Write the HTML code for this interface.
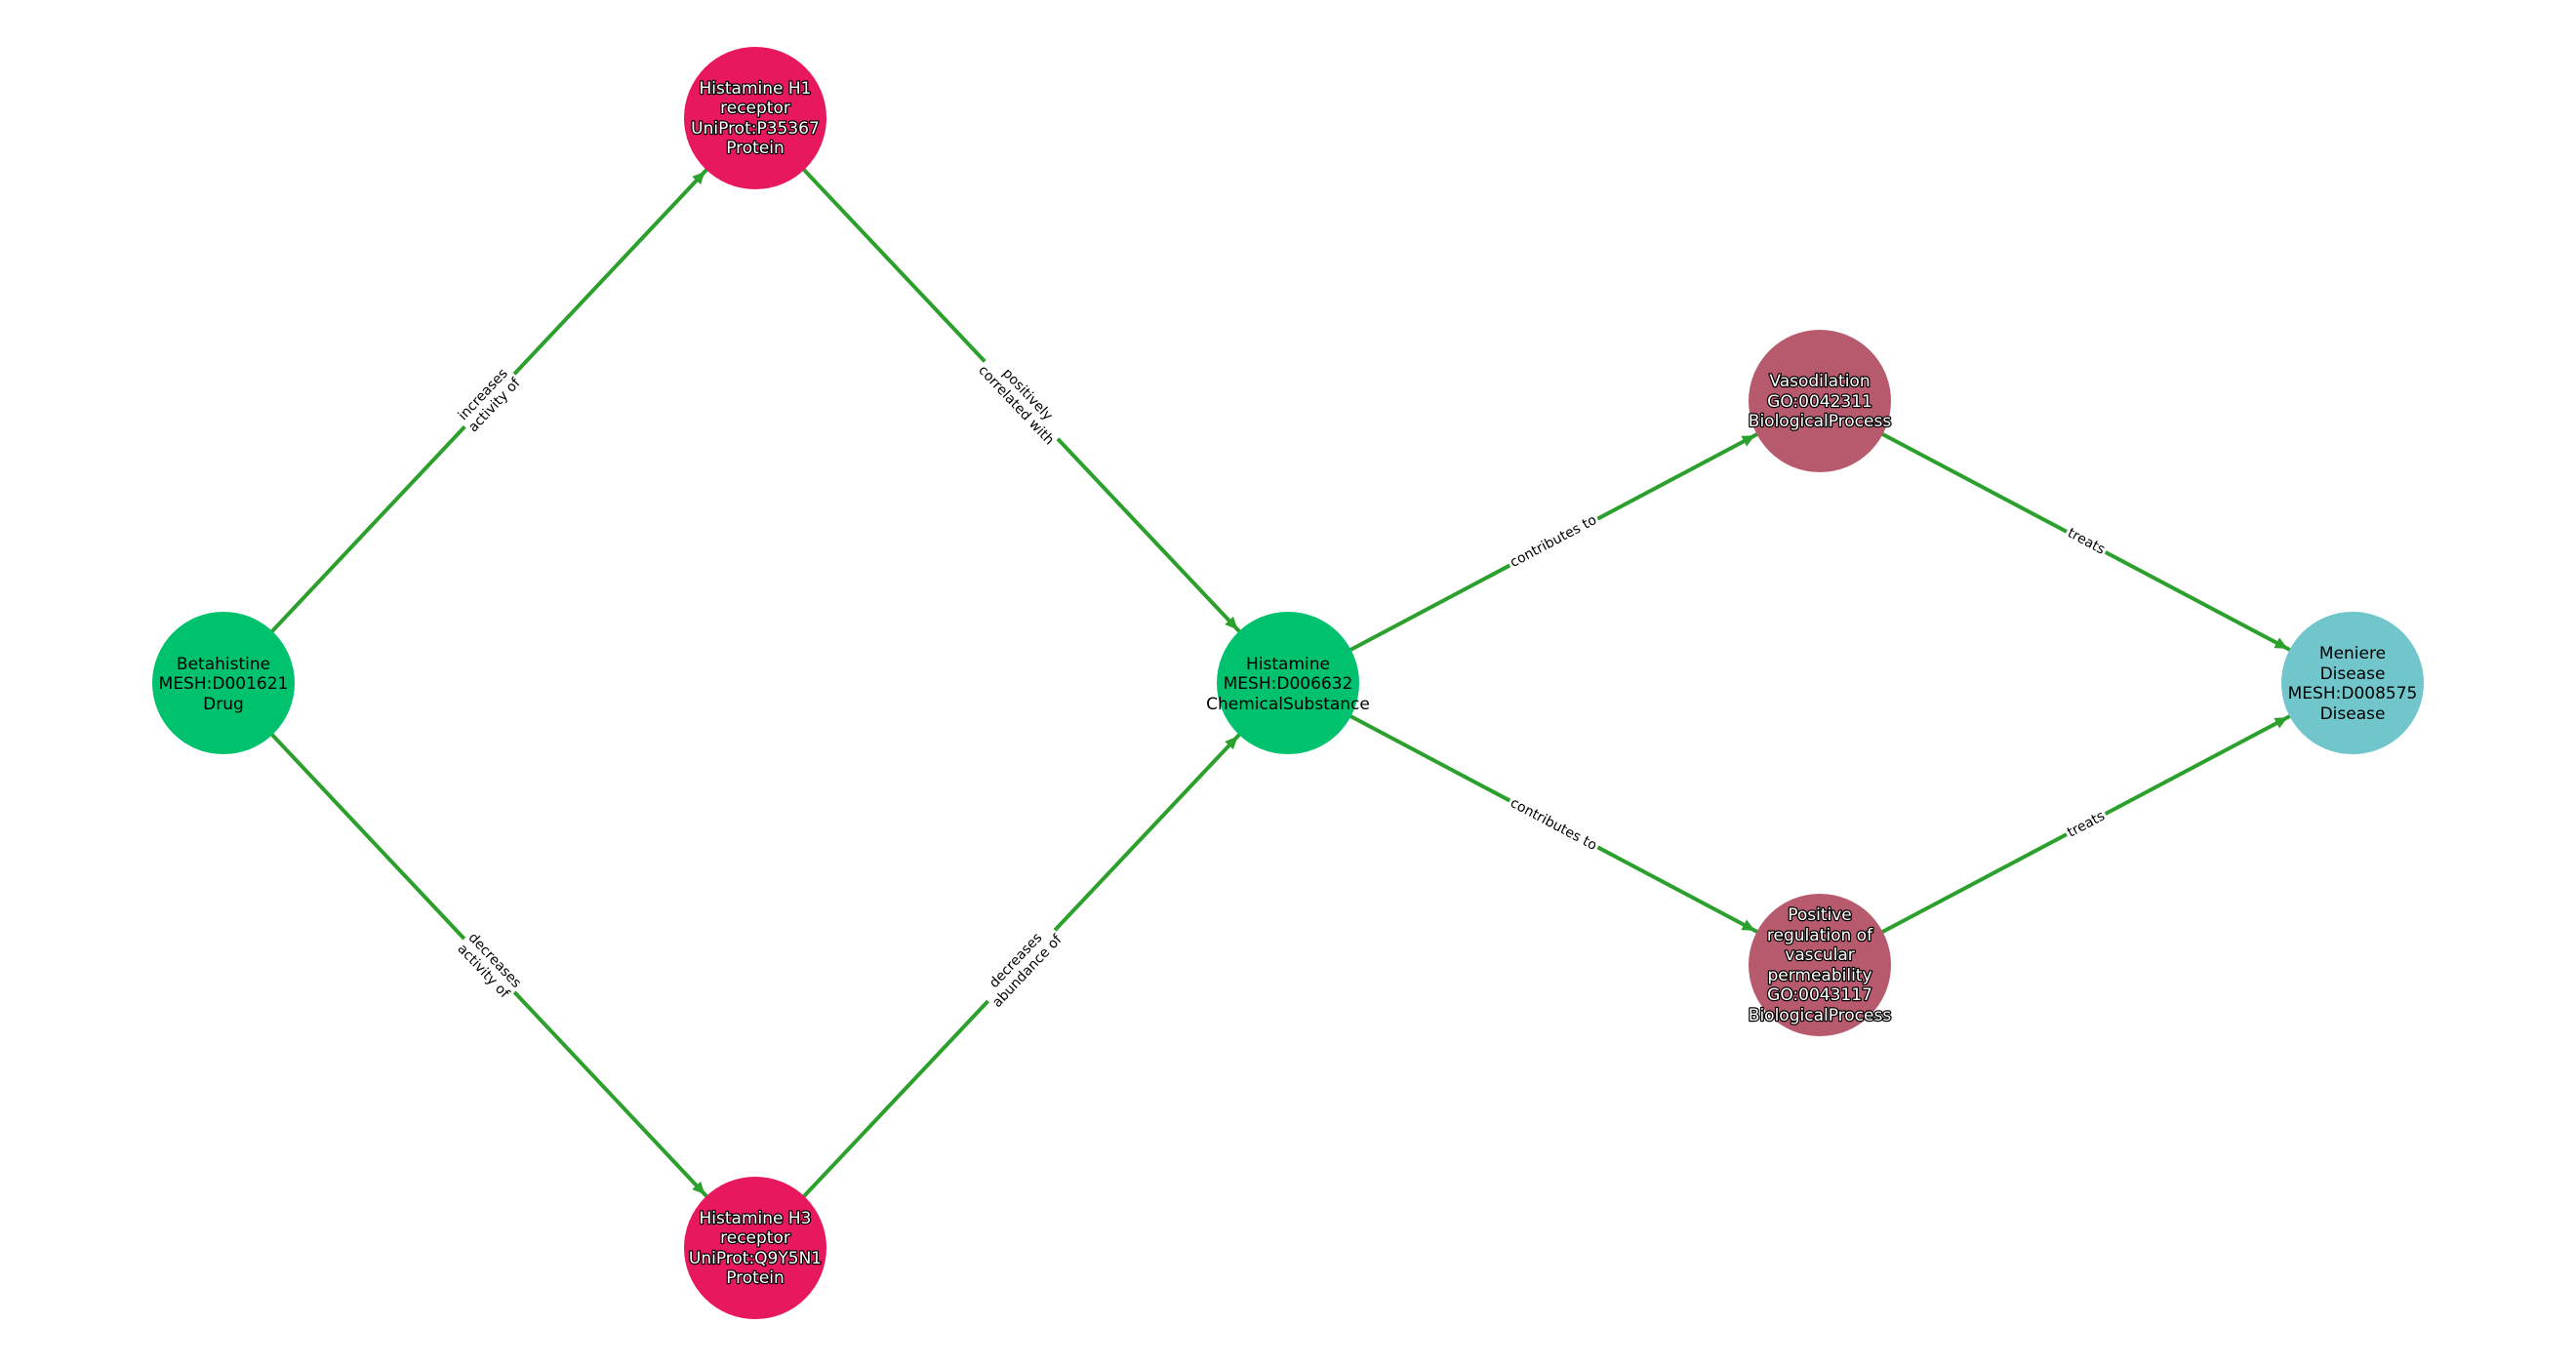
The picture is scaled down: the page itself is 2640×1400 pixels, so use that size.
<!DOCTYPE html>
<html><head><meta charset="utf-8"><style>
html,body{margin:0;padding:0;background:#fff;}
#c{position:relative;width:2640px;height:1400px;overflow:hidden;font-family:"DejaVu Sans","Liberation Sans",sans-serif;}
svg{position:absolute;left:0;top:0;}
.el{position:absolute;transform-origin:center;background:#fff;font-size:14px;line-height:16px;text-align:center;white-space:nowrap;color:#000;padding:0 2px;}
.nt{font-size:17px;text-anchor:middle;font-family:"DejaVu Sans","Liberation Sans",sans-serif;}
.w{fill:#fff;stroke:#000;stroke-width:2.5px;paint-order:stroke;stroke-linejoin:round;}
.b{fill:#000;}
</style></head><body><div id="c">
<svg width="2640" height="1400" viewBox="0 0 2640 1400">
<g stroke="#2ca02c" stroke-width="4">
<line x1="229" y1="700" x2="774" y2="121"/>
<line x1="774" y1="121" x2="1320" y2="700"/>
<line x1="229" y1="700" x2="774" y2="1279"/>
<line x1="774" y1="1279" x2="1320" y2="700"/>
<line x1="1320" y1="700" x2="1865" y2="411"/>
<line x1="1320" y1="700" x2="1865" y2="989"/>
<line x1="1865" y1="411" x2="2411" y2="700"/>
<line x1="1865" y1="989" x2="2411" y2="700"/>
</g>
<circle cx="229" cy="700" r="73" fill="#00c26e"/>
<circle cx="774" cy="121" r="73" fill="#e8185f"/>
<circle cx="774" cy="1279" r="73" fill="#e8185f"/>
<circle cx="1320" cy="700" r="73" fill="#00c26e"/>
<circle cx="1865" cy="411" r="73" fill="#b75a6e"/>
<circle cx="1865" cy="989" r="73" fill="#b75a6e"/>
<circle cx="2411" cy="700" r="73" fill="#70c6ca"/>
<g fill="#2ca02c">
<polygon points="0,0 -13,-6 -13,6" transform="translate(722.6,175.6) rotate(-46.73)"/>
<polygon points="0,0 -13,-6 -13,6" transform="translate(1268.5,645.4) rotate(46.73)"/>
<polygon points="0,0 -13,-6 -13,6" transform="translate(722.6,1224.4) rotate(46.73)"/>
<polygon points="0,0 -13,-6 -13,6" transform="translate(1268.5,754.6) rotate(-46.73)"/>
<polygon points="0,0 -13,-6 -13,6" transform="translate(1798.7,446.1) rotate(-27.93)"/>
<polygon points="0,0 -13,-6 -13,6" transform="translate(1798.7,953.9) rotate(27.93)"/>
<polygon points="0,0 -13,-6 -13,6" transform="translate(2344.7,664.9) rotate(27.93)"/>
<polygon points="0,0 -13,-6 -13,6" transform="translate(2344.7,735.1) rotate(-27.93)"/>
</g>
<text class="nt b" x="229" y="686">Betahistine</text>
<text class="nt b" x="229" y="706">MESH:D001621</text>
<text class="nt b" x="229" y="727">Drug</text>
<text class="nt w" x="774" y="96">Histamine H1</text>
<text class="nt w" x="774" y="116">receptor</text>
<text class="nt w" x="774" y="137">UniProt:P35367</text>
<text class="nt w" x="774" y="157">Protein</text>
<text class="nt w" x="774" y="1254">Histamine H3</text>
<text class="nt w" x="774" y="1274">receptor</text>
<text class="nt w" x="774" y="1295">UniProt:Q9Y5N1</text>
<text class="nt w" x="774" y="1315">Protein</text>
<text class="nt b" x="1320" y="686">Histamine</text>
<text class="nt b" x="1320" y="706">MESH:D006632</text>
<text class="nt b" x="1320" y="727">ChemicalSubstance</text>
<text class="nt w" x="1865" y="396">Vasodilation</text>
<text class="nt w" x="1865" y="417">GO:0042311</text>
<text class="nt w" x="1865" y="437">BiologicalProcess</text>
<text class="nt w" x="1865" y="943">Positive</text>
<text class="nt w" x="1865" y="964">regulation of</text>
<text class="nt w" x="1865" y="984">vascular</text>
<text class="nt w" x="1865" y="1005">permeability</text>
<text class="nt w" x="1865" y="1025">GO:0043117</text>
<text class="nt w" x="1865" y="1046">BiologicalProcess</text>
<text class="nt b" x="2411" y="675">Meniere</text>
<text class="nt b" x="2411" y="696">Disease</text>
<text class="nt b" x="2411" y="716">MESH:D008575</text>
<text class="nt b" x="2411" y="737">Disease</text>
</svg>
<div class="el" style="left:501px;top:410px;transform:translate(-50%,-50%) rotate(-46.7deg)">increases<br>activity of</div>
<div class="el" style="left:1047px;top:410px;transform:translate(-50%,-50%) rotate(46.7deg)">positively<br>correlated with</div>
<div class="el" style="left:501px;top:990px;transform:translate(-50%,-50%) rotate(46.7deg)">decreases<br>activity of</div>
<div class="el" style="left:1047px;top:990px;transform:translate(-50%,-50%) rotate(-46.7deg)">decreases<br>abundance of</div>
<div class="el" style="left:1592px;top:555px;transform:translate(-50%,-50%) rotate(-27.9deg)">contributes to</div>
<div class="el" style="left:1592px;top:845px;transform:translate(-50%,-50%) rotate(27.9deg)">contributes to</div>
<div class="el" style="left:2138px;top:555px;transform:translate(-50%,-50%) rotate(27.9deg)">treats</div>
<div class="el" style="left:2138px;top:845px;transform:translate(-50%,-50%) rotate(-27.9deg)">treats</div>
</div></body></html>
